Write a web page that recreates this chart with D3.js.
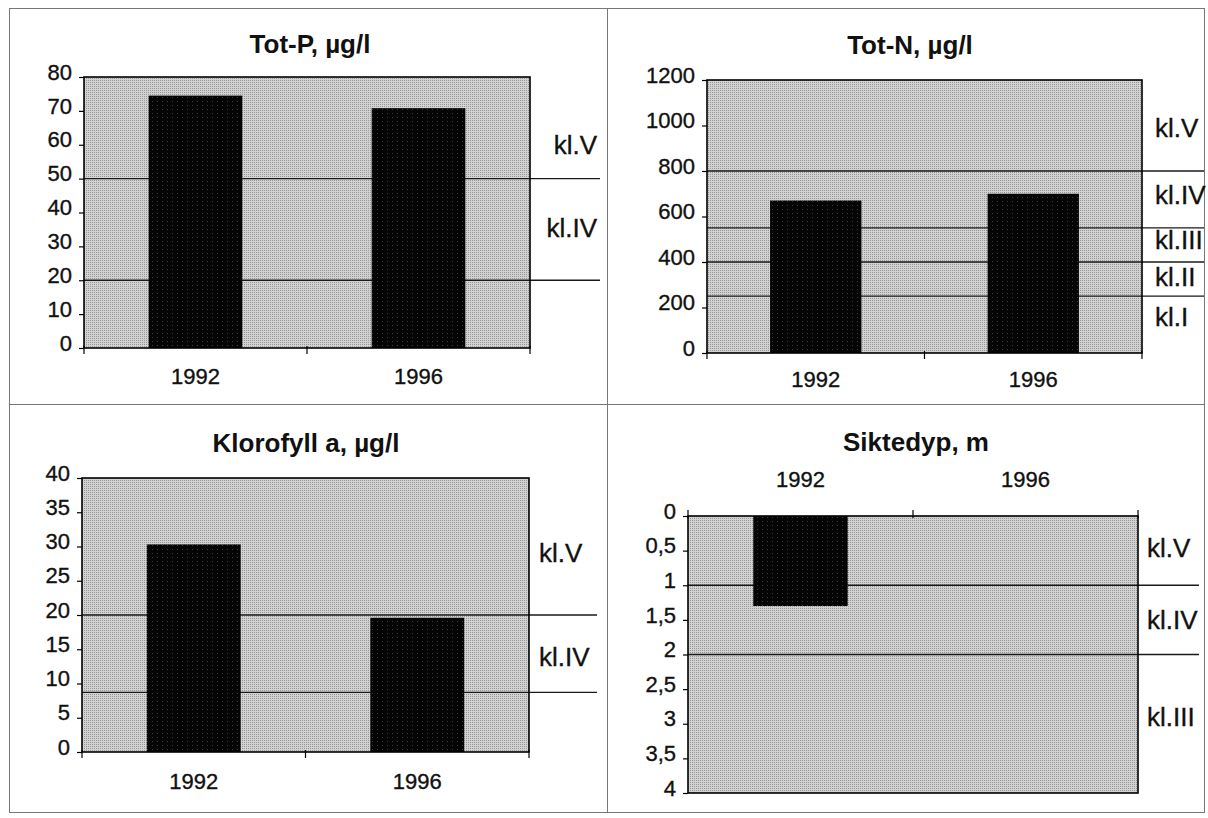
<!DOCTYPE html>
<html>
<head>
<meta charset="utf-8">
<script src="https://cdn.jsdelivr.net/npm/d3@7"></script>
<style>
  html, body { margin: 0; padding: 0; background: #fff; }
  svg text { font-family: "Liberation Sans", Arial, Helvetica, sans-serif; fill: #111; }
  svg text.reg { stroke: #111; stroke-width: 0.35px; }
</style>
</head>
<body>
<svg id="chart" width="1208" height="818"></svg>
<script>
// Sampling years (shared category axis)
const years = ["1992", "1996"];

// Total phosphorus, µg/l
const totP = [74.5, 70.8];
const totPLimits = [20, 50];
const totPTicks = [0, 10, 20, 30, 40, 50, 60, 70, 80];
const totPClasses = ["kl.IV", "kl.V"];
const totPClassAt = [35.5, 60];

// Total nitrogen, µg/l
const totN = [670, 700];
const totNLimits = [250, 400, 550, 800];
const totNTicks = [0, 200, 400, 600, 800, 1000, 1200];
const totNClasses = ["kl.I", "kl.II", "kl.III", "kl.IV", "kl.V"];
const totNClassAt = [158, 334, 497, 694, 990];

// Chlorophyll a, µg/l
const klorofyll = [30.3, 19.6];
const klorofyllLimits = [8.7, 20];
const klorofyllTicks = [0, 5, 10, 15, 20, 25, 30, 35, 40];
const klorofyllClasses = ["kl.IV", "kl.V"];
const klorofyllClassAt = [13.9, 29];

// Secchi depth, m (no reading in 1996)
const siktedyp = [1.3, null];
const siktedypLimits = [1, 2];
const siktedypTicks = [0, 0.5, 1, 1.5, 2, 2.5, 3, 3.5, 4];
const siktedypClasses = ["kl.V", "kl.IV", "kl.III"];
const siktedypClassAt = [0.46, 1.5, 2.9];

const panels = [
  { title: "Tot-P, µg/l", values: totP, limits: totPLimits, ticks: totPTicks,
    classes: totPClasses, classAt: totPClassAt, reversed: false,
    x0: 84, x1: 530, y0: 77, y1: 348, titleX: 310, titleY: 53, catY: 384,
    lineEnd: 600, labelX: 597, labelAnchor: "end" },
  { title: "Tot-N, µg/l", values: totN, limits: totNLimits, ticks: totNTicks,
    classes: totNClasses, classAt: totNClassAt, reversed: false,
    x0: 707, x1: 1142, y0: 80, y1: 353, titleX: 910, titleY: 54, catY: 387,
    lineEnd: 1204, labelX: 1155, labelAnchor: "start" },
  { title: "Klorofyll a, µg/l", values: klorofyll, limits: klorofyllLimits, ticks: klorofyllTicks,
    classes: klorofyllClasses, classAt: klorofyllClassAt, reversed: false,
    x0: 82, x1: 529, y0: 478, y1: 752, titleX: 306, titleY: 452, catY: 789,
    lineEnd: 597, labelX: 539, labelAnchor: "start" },
  { title: "Siktedyp, m", values: siktedyp, limits: siktedypLimits, ticks: siktedypTicks,
    classes: siktedypClasses, classAt: siktedypClassAt, reversed: true,
    x0: 688, x1: 1138, y0: 516, y1: 793, titleX: 916, titleY: 451, catY: 487,
    lineEnd: 1199, labelX: 1147, labelAnchor: "start" }
];

const svg = d3.select("#chart");
const defs = svg.append("defs");

// halftone grey for the plot area
const ht = defs.append("pattern").attr("id", "halftone")
  .attr("width", 2).attr("height", 2).attr("patternUnits", "userSpaceOnUse");
ht.append("rect").attr("width", 2).attr("height", 2).attr("fill", "#d2d2d2");
ht.append("rect").attr("width", 1).attr("height", 1).attr("fill", "#979797");

// near-black bars with a sparse speckle
const bp = defs.append("pattern").attr("id", "barfill")
  .attr("width", 5).attr("height", 4).attr("patternUnits", "userSpaceOnUse");
bp.append("rect").attr("width", 5).attr("height", 4).attr("fill", "#050505");
bp.append("rect").attr("x", 2).attr("y", 1).attr("width", 1).attr("height", 1).attr("fill", "#3a3a3a");

// page frame and panel dividers
const frame = svg.append("g").attr("stroke", "#777").attr("stroke-width", 1).attr("fill", "none");
frame.append("rect").attr("x", 9.5).attr("y", 8.5).attr("width", 1195).attr("height", 804);
frame.append("line").attr("x1", 607.5).attr("x2", 607.5).attr("y1", 8.5).attr("y2", 812.5);
frame.append("line").attr("x1", 9.5).attr("x2", 1204.5).attr("y1", 404.5).attr("y2", 404.5);

const fmt = d => String(d).replace(".", ",");

function drawPanel(p) {
  const g = svg.append("g");
  const x = d3.scaleBand().domain(years).range([p.x0, p.x1])
    .paddingInner(0.58).paddingOuter(0.29);
  const yMax = p.ticks[p.ticks.length - 1];
  const y = d3.scaleLinear().domain([0, yMax])
    .range(p.reversed ? [p.y0, p.y1] : [p.y1, p.y0]);

  // plot area
  g.append("rect").attr("x", p.x0).attr("y", p.y0)
    .attr("width", p.x1 - p.x0).attr("height", p.y1 - p.y0)
    .attr("fill", "url(#halftone)");

  // class limit lines, running out to the class labels
  g.selectAll("line.limit").data(p.limits).join("line")
    .attr("class", "limit")
    .attr("x1", p.x0).attr("x2", p.lineEnd)
    .attr("y1", d => y(d)).attr("y2", d => y(d))
    .attr("stroke", "#1a1a1a").attr("stroke-width", 1.3);

  // bars
  const rows = years.map((yr, i) => ({ yr, v: p.values[i] })).filter(d => d.v != null);
  g.selectAll("rect.bar").data(rows).join("rect")
    .attr("class", "bar")
    .attr("x", d => x(d.yr)).attr("width", x.bandwidth())
    .attr("y", d => Math.min(y(0), y(d.v)))
    .attr("height", d => Math.abs(y(d.v) - y(0)))
    .attr("fill", "url(#barfill)");

  // plot border
  g.append("rect").attr("x", p.x0).attr("y", p.y0)
    .attr("width", p.x1 - p.x0).attr("height", p.y1 - p.y0)
    .attr("fill", "none").attr("stroke", "#000").attr("stroke-width", 1.6);

  // value axis
  const ya = g.append("g").attr("transform", `translate(${p.x0},0)`)
    .call(d3.axisLeft(y).tickValues(p.ticks).tickSize(5).tickPadding(7).tickFormat(fmt));
  ya.select(".domain").remove();
  ya.selectAll(".tick line").attr("stroke", "#000").attr("stroke-width", 1.2);
  ya.selectAll(".tick text").attr("class", "reg").attr("font-size", 22).attr("dy", "0.1em")
    .style("font-family", "'Liberation Sans', Arial, sans-serif").attr("fill", "#111");

  // category axis: ticks on band boundaries, labels centred in bands
  const axisY = p.reversed ? p.y0 : p.y1;
  const dir = p.reversed ? -1 : 1;
  const bounds = d3.range(years.length + 1).map(i => p.x0 + i * x.step());
  g.selectAll("line.ctick").data(bounds).join("line")
    .attr("class", "ctick")
    .attr("x1", d => d).attr("x2", d => d)
    .attr("y1", axisY - dir * 2).attr("y2", axisY + dir * 6)
    .attr("stroke", "#000").attr("stroke-width", 1.2);
  g.selectAll("text.cat").data(years).join("text")
    .attr("class", "cat reg")
    .attr("x", d => x(d) + x.bandwidth() / 2).attr("y", p.catY)
    .attr("text-anchor", "middle").attr("font-size", 22)
    .text(d => d);

  // title
  g.append("text").attr("x", p.titleX).attr("y", p.titleY)
    .attr("text-anchor", "middle").attr("font-size", 26).attr("font-weight", "bold")
    .text(p.title);

  // water quality class labels
  g.selectAll("text.cls").data(p.classes).join("text")
    .attr("class", "cls reg")
    .attr("x", p.labelX).attr("y", (d, i) => y(p.classAt[i]) + 9)
    .attr("text-anchor", p.labelAnchor).attr("font-size", 26)
    .text(d => d);
}

panels.forEach(drawPanel);
</script>
</body>
</html>
